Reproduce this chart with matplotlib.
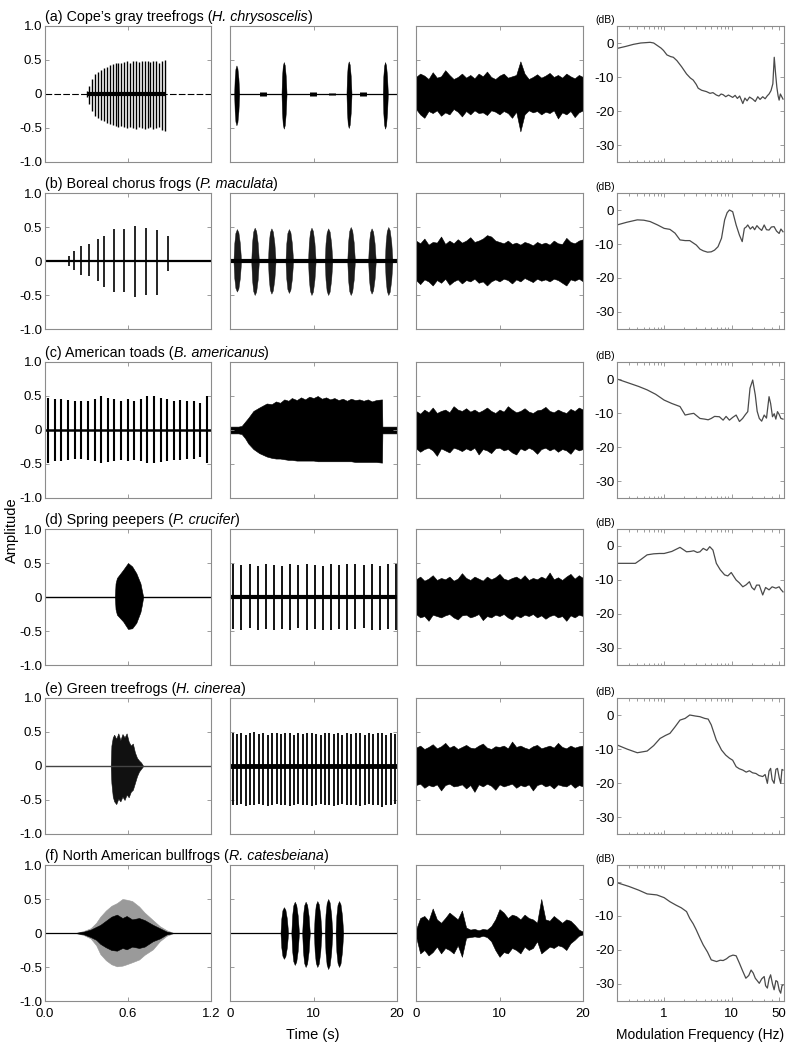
import numpy as np
import matplotlib.pyplot as plt

plt.rcParams['font.family'] = ['Liberation Sans', 'DejaVu Sans']
plt.rcParams['axes.unicode_minus'] = False

# ---- titles ----
labels = ['(a) Cope\u2019s gray treefrogs', '(b) Boreal chorus frogs', '(c) American toads',
          '(d) Spring peepers', '(e) Green treefrogs', '(f) North American bullfrogs']
species = ['H. chrysoscelis', 'P. maculata', 'B. americanus',
           'P. crucifer', 'H. cinerea', 'R. catesbeiana']

# ---- column 1: single calls (0-1.2 s) ----
a1_t = [0.300, 0.321, 0.342, 0.363, 0.384, 0.405, 0.426, 0.447, 0.468, 0.489, 0.510, 0.531, 0.552, 0.573,
        0.594, 0.615, 0.636, 0.657, 0.678, 0.699, 0.720, 0.741, 0.762, 0.783, 0.804, 0.825, 0.846, 0.867]
a1_up = [0.05, 0.12, 0.22, 0.3, 0.33, 0.36, 0.38, 0.4, 0.42, 0.44, 0.45, 0.46, 0.45, 0.47,
         0.48, 0.46, 0.48, 0.49, 0.47, 0.48, 0.49, 0.48, 0.47, 0.49, 0.48, 0.46, 0.49, 0.5]
a1_lo = [-0.05, -0.15, -0.25, -0.32, -0.36, -0.38, -0.4, -0.42, -0.44, -0.46, -0.47, -0.48, -0.47, -0.49,
         -0.5, -0.48, -0.5, -0.51, -0.49, -0.5, -0.51, -0.5, -0.49, -0.52, -0.5, -0.48, -0.53, -0.54]

b1_t = [0.17, 0.21, 0.26, 0.32, 0.38, 0.43, 0.50, 0.57, 0.65, 0.73, 0.81, 0.89]
b1_up = [0.08, 0.14, 0.22, 0.25, 0.32, 0.37, 0.47, 0.47, 0.52, 0.49, 0.45, 0.37]
b1_lo = [-0.07, -0.13, -0.2, -0.22, -0.3, -0.38, -0.45, -0.45, -0.53, -0.5, -0.5, -0.15]

c1_t = [0.024, 0.072, 0.119, 0.167, 0.215, 0.263, 0.310, 0.358, 0.406, 0.453, 0.501, 0.549, 0.597,
        0.644, 0.692, 0.740, 0.787, 0.835, 0.883, 0.931, 0.978, 1.026, 1.074, 1.121, 1.169]
c1_up = [0.47, 0.45, 0.45, 0.44, 0.43, 0.42, 0.43, 0.45, 0.5, 0.47, 0.45, 0.43, 0.45,
         0.43, 0.45, 0.5, 0.5, 0.47, 0.45, 0.43, 0.44, 0.43, 0.42, 0.4, 0.5]
c1_lo = [-0.48, -0.46, -0.45, -0.44, -0.43, -0.43, -0.44, -0.46, -0.48, -0.47, -0.45, -0.44, -0.45,
         -0.44, -0.46, -0.48, -0.49, -0.47, -0.45, -0.44, -0.44, -0.43, -0.42, -0.4, -0.48]

d1_t = [0.505, 0.51, 0.52, 0.565, 0.60, 0.63, 0.66, 0.69, 0.70, 0.71]
d1_up = [0.0, 0.2, 0.28, 0.4, 0.5, 0.45, 0.35, 0.2, 0.1, 0.0]
d1_lo = [0.0, -0.18, -0.26, -0.36, -0.47, -0.46, -0.38, -0.22, -0.12, 0.0]

e1_t = [0.475, 0.48, 0.49, 0.50, 0.515, 0.53, 0.545, 0.56, 0.575, 0.59, 0.605, 0.62, 0.635, 0.65,
        0.665, 0.68, 0.695, 0.71]
e1_up = [0.0, 0.3, 0.42, 0.46, 0.4, 0.48, 0.38, 0.47, 0.42, 0.48, 0.36, 0.3, 0.33, 0.2,
         0.12, 0.08, 0.05, 0.0]
e1_lo = [0.0, -0.25, -0.45, -0.52, -0.56, -0.48, -0.52, -0.45, -0.5, -0.42, -0.46, -0.38, -0.35, -0.25,
         -0.15, -0.08, -0.04, 0.0]

f1_t = [0.22, 0.28, 0.33, 0.37, 0.40, 0.44, 0.48, 0.52, 0.56, 0.59, 0.63, 0.68, 0.72, 0.78, 0.83, 0.88, 0.93]
f1_up_out = [0.0, 0.03, 0.07, 0.15, 0.24, 0.33, 0.4, 0.44, 0.5, 0.49, 0.47, 0.39, 0.3, 0.19, 0.1, 0.04, 0.0]
f1_lo_out = [0.0, -0.03, -0.08, -0.18, -0.31, -0.4, -0.46, -0.49, -0.48, -0.46, -0.43, -0.39, -0.32,
             -0.24, -0.12, -0.04, 0.0]
f1_up_in = [0.0, 0.02, 0.05, 0.09, 0.12, 0.18, 0.24, 0.27, 0.22, 0.25, 0.2, 0.22, 0.19, 0.12, 0.07, 0.02, 0.0]
f1_lo_in = [0.0, -0.02, -0.06, -0.1, -0.16, -0.21, -0.25, -0.26, -0.22, -0.24, -0.2, -0.22, -0.2,
            -0.12, -0.08, -0.02, 0.0]

# ---- column 2: call sequences (0-20 s) ----
a2_t = [0.8, 6.47, 14.25, 18.6]
a2_up = [0.42, 0.47, 0.48, 0.47]
a2_lo = [-0.46, -0.51, -0.5, -0.51]
a2_small_t = [4.0, 9.9, 12.2, 15.9]
a2_small_a = [0.03, 0.03, 0.02, 0.03]

b2_t = [0.87, 3.0, 5.0, 7.1, 9.8, 11.8, 14.5, 17.0, 19.0]
b2_up = [0.47, 0.49, 0.48, 0.47, 0.49, 0.48, 0.5, 0.48, 0.5]
b2_lo = [-0.45, -0.5, -0.48, -0.47, -0.5, -0.5, -0.5, -0.48, -0.5]

c2_t = [0, 0.5, 1.0, 1.4, 1.8, 2.2, 2.8, 3.5, 4.4, 5.0, 5.5, 6.0, 6.5, 7.0, 7.4, 8.0, 8.5, 9.0,
        9.5, 10, 10.5, 11.0, 11.5, 12.0, 12.5, 13, 13.5, 14.0, 14.5, 15.0, 15.5, 16, 16.5, 17.0,
        17.5, 18.2, 18.25, 19, 20]
c2_up = [0.05, 0.05, 0.05, 0.06, 0.12, 0.18, 0.28, 0.33, 0.39, 0.38, 0.42, 0.4, 0.45, 0.43, 0.47,
         0.44, 0.48, 0.45, 0.49, 0.47, 0.5, 0.46, 0.48, 0.45, 0.47, 0.44, 0.46, 0.43, 0.46, 0.44,
         0.45, 0.43, 0.45, 0.42, 0.44, 0.45, 0.05, 0.05, 0.05]
c2_lo = [-0.05, -0.05, -0.05, -0.06, -0.12, -0.2, -0.28, -0.34, -0.39, -0.41, -0.42, -0.42, -0.43,
         -0.44, -0.44, -0.45, -0.45, -0.45, -0.45, -0.45, -0.46, -0.46, -0.46, -0.46, -0.46, -0.46,
         -0.46, -0.46, -0.46, -0.47, -0.47, -0.47, -0.47, -0.47, -0.47, -0.48, -0.05, -0.05, -0.05]

d2_t = [0.4, 1.37, 2.35, 3.32, 4.3, 5.27, 6.25, 7.22, 8.2, 9.17, 10.15, 11.12, 12.1, 13.07,
        14.05, 15.02, 16.0, 16.97, 17.95, 18.92, 19.9]
d2_up = [0.48, 0.47, 0.49, 0.46, 0.48, 0.47, 0.46, 0.48, 0.47, 0.49, 0.47, 0.46, 0.48, 0.47,
         0.48, 0.49, 0.47, 0.48, 0.46, 0.48, 0.49]
d2_lo = [-0.47, -0.48, -0.46, -0.48, -0.47, -0.49, -0.47, -0.48, -0.46, -0.48, -0.47, -0.48, -0.49, -0.47,
         -0.48, -0.47, -0.46, -0.48, -0.49, -0.47, -0.48]

e2_t = [0.3, 0.83, 1.35, 1.88, 2.41, 2.93, 3.46, 3.99, 4.52, 5.04, 5.57, 6.1, 6.62, 7.15, 7.68, 8.2,
        8.73, 9.26, 9.78, 10.31, 10.84, 11.36, 11.89, 12.42, 12.95, 13.47, 14.0, 14.53, 15.05, 15.58,
        16.11, 16.63, 17.16, 17.69, 18.21, 18.74, 19.27, 19.79]
e2_up = [0.48, 0.47, 0.49, 0.46, 0.48, 0.5, 0.47, 0.48, 0.46, 0.49, 0.48, 0.47, 0.49, 0.48, 0.46, 0.48,
         0.47, 0.49, 0.48, 0.47, 0.46, 0.48, 0.49, 0.47, 0.48, 0.46, 0.48, 0.47, 0.49, 0.48,
         0.46, 0.48, 0.47, 0.49, 0.48, 0.46, 0.48, 0.47]
e2_lo = [-0.57, -0.58, -0.56, -0.59, -0.57, -0.58, -0.56, -0.57, -0.59, -0.58, -0.56, -0.57, -0.58, -0.59,
         -0.57, -0.56, -0.58, -0.57, -0.59, -0.58, -0.56, -0.57, -0.58, -0.59, -0.57, -0.56, -0.58, -0.57,
         -0.58, -0.59, -0.57, -0.56, -0.58, -0.57, -0.6, -0.58, -0.57, -0.56]

f2_t = [6.5, 7.8, 9.1, 10.5, 11.8, 13.1]
f2_up = [0.38, 0.46, 0.46, 0.47, 0.5, 0.47]
f2_lo = [-0.38, -0.47, -0.5, -0.5, -0.53, -0.5]

# ---- column 3: chorus noise envelopes (0-20 s) ----
noise_t = [0, 0.5, 1, 1.5, 2, 2.5, 3, 3.5, 4, 4.5, 5, 5.5, 6, 6.5, 7, 7.5, 8, 8.5, 9, 9.5, 10,
           10.5, 11, 11.5, 12, 12.5, 13, 13.5, 14, 14.5, 15, 15.5, 16, 16.5, 17, 17.5, 18, 18.5,
           19, 19.5, 20]
a3_up = [0.25, 0.3, 0.27, 0.22, 0.32, 0.24, 0.26, 0.35, 0.28, 0.22, 0.25, 0.3, 0.24, 0.28, 0.23,
         0.3, 0.26, 0.33, 0.25, 0.22, 0.27, 0.3, 0.24, 0.26, 0.28, 0.48, 0.3, 0.22, 0.25, 0.29,
         0.24, 0.27, 0.31, 0.25, 0.28, 0.24, 0.3, 0.26, 0.23, 0.28, 0.25]
a3_lo = [-0.22, -0.3, -0.35, -0.25, -0.28, -0.24, -0.32, -0.27, -0.3, -0.22, -0.26, -0.33, -0.25, -0.3,
         -0.24, -0.28, -0.27, -0.31, -0.24, -0.26, -0.3, -0.25, -0.28, -0.35, -0.26, -0.55, -0.3, -0.24,
         -0.27, -0.25, -0.3, -0.26, -0.28, -0.24, -0.36, -0.27, -0.3, -0.25, -0.34, -0.27, -0.24]
b3_up = [0.3, 0.26, 0.33, 0.24, 0.28, 0.27, 0.36, 0.25, 0.3, 0.26, 0.32, 0.27, 0.3, 0.35, 0.28,
         0.3, 0.33, 0.38, 0.36, 0.3, 0.28, 0.26, 0.3, 0.25, 0.27, 0.24, 0.28, 0.26, 0.23, 0.28,
         0.25, 0.27, 0.24, 0.3, 0.26, 0.25, 0.34, 0.28, 0.26, 0.3, 0.32]
b3_lo = [-0.28, -0.34, -0.27, -0.3, -0.36, -0.28, -0.32, -0.26, -0.35, -0.3, -0.27, -0.33, -0.28, -0.3,
         -0.26, -0.32, -0.3, -0.36, -0.3, -0.27, -0.3, -0.26, -0.28, -0.33, -0.27, -0.3, -0.25, -0.28,
         -0.31, -0.26, -0.29, -0.27, -0.3, -0.26, -0.28, -0.32, -0.36, -0.27, -0.29, -0.26, -0.3]
c3_up = [0.28, 0.24, 0.3, 0.26, 0.33, 0.25, 0.28, 0.3, 0.26, 0.35, 0.3, 0.28, 0.32, 0.27, 0.3,
         0.26, 0.29, 0.33, 0.28, 0.25, 0.3, 0.27, 0.35, 0.3, 0.26, 0.28, 0.32, 0.27, 0.25, 0.29,
         0.3, 0.34, 0.28, 0.26, 0.3, 0.27, 0.25, 0.31, 0.28, 0.33, 0.3]
c3_lo = [-0.27, -0.32, -0.28, -0.26, -0.3, -0.38, -0.27, -0.3, -0.33, -0.26, -0.28, -0.31, -0.27, -0.3,
         -0.26, -0.36, -0.28, -0.3, -0.34, -0.27, -0.26, -0.3, -0.28, -0.33, -0.36, -0.27, -0.3, -0.26,
         -0.29, -0.35, -0.28, -0.26, -0.3, -0.27, -0.32, -0.28, -0.3, -0.35, -0.27, -0.3, -0.28]
d3_up = [0.26, 0.3, 0.24, 0.27, 0.32, 0.25, 0.28, 0.26, 0.3, 0.24, 0.27, 0.35, 0.28, 0.25, 0.3,
         0.27, 0.24, 0.3, 0.26, 0.29, 0.34, 0.27, 0.25, 0.28, 0.3, 0.26, 0.32, 0.25, 0.28, 0.26,
         0.3, 0.27, 0.36, 0.26, 0.29, 0.25, 0.3, 0.34, 0.27, 0.32, 0.28]
d3_lo = [-0.25, -0.3, -0.28, -0.35, -0.26, -0.28, -0.3, -0.27, -0.25, -0.3, -0.33, -0.27, -0.26, -0.3,
         -0.28, -0.25, -0.34, -0.28, -0.3, -0.26, -0.28, -0.25, -0.3, -0.33, -0.27, -0.3, -0.26, -0.28,
         -0.25, -0.3, -0.27, -0.32, -0.28, -0.26, -0.3, -0.28, -0.35, -0.27, -0.3, -0.26, -0.28]
e3_up = [0.27, 0.3, 0.25, 0.28, 0.32, 0.26, 0.29, 0.34, 0.27, 0.3, 0.25, 0.28, 0.31, 0.27, 0.26,
         0.3, 0.33, 0.27, 0.25, 0.29, 0.28, 0.3, 0.26, 0.36, 0.28, 0.3, 0.27, 0.25, 0.29, 0.31,
         0.26, 0.28, 0.3, 0.27, 0.34, 0.28, 0.26, 0.3, 0.27, 0.29, 0.3]
e3_lo = [-0.28, -0.26, -0.32, -0.28, -0.3, -0.27, -0.36, -0.28, -0.26, -0.3, -0.29, -0.27, -0.33, -0.28,
         -0.38, -0.27, -0.3, -0.26, -0.29, -0.35, -0.27, -0.3, -0.28, -0.26, -0.32, -0.28, -0.3, -0.27,
         -0.36, -0.28, -0.26, -0.3, -0.28, -0.33, -0.27, -0.29, -0.3, -0.26, -0.32, -0.28, -0.3]
f3_up = [0.05, 0.22, 0.25, 0.18, 0.36, 0.2, 0.15, 0.22, 0.3, 0.25, 0.2, 0.33, 0.08, 0.05, 0.06,
         0.04, 0.06, 0.05, 0.1, 0.2, 0.35, 0.3, 0.22, 0.27, 0.25, 0.2, 0.27, 0.22, 0.2, 0.15,
         0.5, 0.2, 0.18, 0.25, 0.2, 0.15, 0.2, 0.18, 0.12, 0.05, 0.02]
f3_lo = [-0.05, -0.3, -0.25, -0.33, -0.28, -0.2, -0.3, -0.22, -0.25, -0.3, -0.18, -0.35, -0.07, -0.06,
         -0.05, -0.06, -0.04, -0.06, -0.12, -0.25, -0.35, -0.28, -0.3, -0.22, -0.25, -0.3, -0.2, -0.25,
         -0.22, -0.12, -0.3, -0.25, -0.2, -0.22, -0.18, -0.2, -0.25, -0.15, -0.1, -0.04, -0.02]

# ---- column 4: modulation spectra (Hz, dB) ----
a4_f = [0.2, 0.27, 0.35, 0.45, 0.53, 0.62, 0.7, 0.8, 0.9, 0.98, 1.1, 1.25, 1.37, 1.55, 1.82, 2.15, 2.45,
        2.7, 3.0, 3.2, 3.6, 4.25, 4.8, 5.3, 5.95, 6.5, 7.0, 7.5, 8.2, 9.0, 10.4, 11.3, 12.2, 13.2, 14.7,
        15.8, 17.0, 18.5, 20.6, 22.5, 24.5, 26.5, 29.0, 31.5, 34.0, 36.0, 38.5, 41.0, 43.0, 45.0, 47.0,
        49.0, 50.8, 53.0, 55.6, 58.0]
a4_db = [-1.6, -1.0, -0.4, 0.0, 0.1, 0.2, 0.0, -0.8, -1.5, -2.2, -3.5, -4.0, -4.2, -5.2, -7.0, -9.1, -10.3,
         -10.9, -12.2, -13.3, -13.9, -14.3, -14.8, -14.6, -15.3, -15.6, -15.0, -15.2, -15.8, -15.3, -16.0,
         -15.4, -16.3, -15.6, -17.8, -16.2, -17.0, -15.9, -16.5, -17.2, -15.8, -16.6, -15.8, -16.4, -15.5,
         -15.0, -14.0, -12.0, -4.2, -9.0, -13.0, -15.5, -16.8, -15.0, -15.8, -16.5]
b4_f = [0.2, 0.28, 0.4, 0.5, 0.62, 0.8, 1.0, 1.22, 1.45, 1.72, 2.05, 2.4, 3.0, 3.4, 3.8, 4.4, 5.0, 5.6,
        6.3, 7.1, 7.9, 8.6, 9.3, 10.4, 11.7, 13.1, 14.4, 15.5, 16.5, 17.4, 19.0, 20.6, 22.0, 23.8, 25.8,
        28.0, 30.5, 33.0, 36.0, 39.0, 42.8, 46.5, 50.8, 54.0, 58.0]
b4_db = [-4.4, -3.6, -2.9, -3.0, -3.4, -4.4, -5.4, -5.7, -6.8, -8.8, -9.0, -9.0, -10.3, -11.5, -12.0,
         -12.4, -12.3, -11.8, -10.8, -8.3, -2.9, -0.8, 0.0, -0.5, -4.4, -7.4, -9.3, -5.4, -5.0, -4.4,
         -5.6, -4.9, -5.8, -4.6, -5.4, -6.0, -4.4, -5.8, -5.9, -5.0, -4.9, -6.2, -6.9, -5.6, -6.4]
c4_f = [0.2, 0.3, 0.42, 0.56, 0.75, 1.0, 1.3, 1.72, 2.05, 2.4, 2.75, 3.4, 4.0, 4.5, 5.0, 5.6, 6.6, 7.5,
        8.3, 9.3, 10.4, 11.7, 13.1, 14.6, 16.0, 17.4, 18.8, 20.6, 22.5, 24.0, 25.8, 28.0, 30.5, 33.0,
        36.0, 38.0, 40.5, 43.0, 45.4, 48.0, 50.8, 54.0, 58.0]
c4_db = [0.0, -1.2, -2.2, -3.2, -4.5, -6.2, -7.2, -8.1, -10.6, -10.3, -10.1, -11.6, -11.8, -12.0, -11.6,
         -11.0, -11.1, -12.1, -11.0, -12.1, -11.3, -10.6, -12.5, -11.6, -10.5, -9.6, -2.7, -0.3, -4.7,
         -9.5, -11.6, -12.4, -10.6, -11.5, -5.2, -7.2, -11.1, -10.2, -11.8, -9.6, -10.4, -11.6, -11.8]
d4_f = [0.2, 0.28, 0.375, 0.45, 0.56, 0.7, 0.85, 1.0, 1.3, 1.72, 2.15, 2.45, 2.75, 3.1, 3.4, 3.8, 4.3,
        4.75, 5.3, 5.95, 6.8, 7.9, 8.8, 9.9, 11.0, 11.7, 13.0, 14.7, 16.5, 18.4, 20.0, 21.8, 23.5, 25.8,
        29.0, 32.0, 36.0, 40.0, 45.4, 50.8, 54.0, 58.0]
d4_db = [-5.1, -5.1, -5.1, -4.0, -2.6, -2.3, -2.2, -2.2, -1.6, -0.4, -1.7, -1.6, -1.4, -1.9, -1.7, -0.7,
         -1.3, -0.2, -1.2, -5.1, -7.0, -8.5, -8.8, -7.8, -9.2, -10.0, -10.8, -12.0, -11.4, -10.5, -12.2,
         -12.9, -11.5, -11.5, -14.4, -12.2, -12.9, -12.0, -12.4, -12.0, -12.8, -13.5]
e4_f = [0.2, 0.28, 0.4, 0.56, 0.7, 0.87, 1.05, 1.22, 1.45, 1.72, 2.05, 2.4, 2.9, 3.4, 4.0, 4.5, 5.0, 5.95,
        6.5, 7.1, 8.2, 9.3, 10.4, 11.7, 13.0, 14.7, 16.5, 18.4, 20.5, 23.0, 25.5, 29.0, 31.5, 34.0, 36.0,
        38.0, 40.0, 42.8, 45.5, 48.0, 51.0, 53.6, 56.0, 58.0]
e4_db = [-8.8, -10.0, -11.1, -10.6, -9.0, -6.9, -6.0, -5.4, -3.5, -1.5, -1.0, 0.0, -0.3, -0.5, -1.0,
         -1.2, -2.9, -7.4, -8.8, -10.3, -11.8, -12.7, -13.3, -15.2, -15.8, -16.2, -16.8, -16.4, -17.0,
         -17.2, -17.8, -18.1, -17.5, -20.1, -16.5, -15.7, -19.0, -20.1, -16.0, -15.7, -18.5, -20.1,
         -16.0, -16.2]
f4_f = [0.2, 0.3, 0.42, 0.56, 0.78, 1.0, 1.22, 1.5, 1.8, 2.15, 2.4, 2.7, 3.0, 3.4, 3.8, 4.4, 5.0, 6.0,
        6.8, 7.5, 8.4, 9.3, 10.5, 11.7, 13.1, 14.5, 16.3, 18.0, 19.5, 21.0, 22.5, 24.0, 25.8, 28.0, 30.5,
        32.0, 34.0, 36.0, 38.0, 40.5, 42.8, 45.5, 48.0, 51.0, 53.6, 56.0, 58.0]
f4_db = [-0.2, -1.3, -2.4, -3.5, -3.8, -4.6, -5.8, -6.8, -7.6, -8.7, -10.7, -12.3, -14.1, -16.5, -18.5,
         -20.6, -22.9, -23.4, -23.0, -23.1, -22.6, -21.9, -21.5, -21.7, -23.9, -26.0, -28.3, -27.5, -25.9,
         -26.8, -28.3, -29.0, -29.8, -28.5, -27.8, -30.5, -31.2, -28.5, -27.3, -30.0, -31.7, -29.0, -29.3,
         -31.8, -32.7, -30.5, -30.3]

# lens-shaped pulse outline (relative units)
SP_X = [0.0, 0.1, 0.25, 0.45, 0.65, 0.85, 1.0]
SP_Y = [0.04, 0.55, 0.88, 1.0, 0.9, 0.55, 0.04]

W, H = 792, 1050
col_left = [45, 230, 416, 617]
col_w = [166, 167, 167, 167]
row_top = [26, 193, 362, 529, 698, 865]
ax_h = 136

fig = plt.figure(figsize=(W / 100, H / 100), dpi=100)
axes = []
for r in range(6):
    row = []
    for c in range(4):
        ax = fig.add_axes([col_left[c] / W, 1 - (row_top[r] + ax_h) / H, col_w[c] / W, ax_h / H])
        row.append(ax)
    axes.append(row)


def spindles(ax, t, up, lo, width, color='k'):
    for c, a, b in zip(t, up, lo):
        xs = [c - width / 2 + width * p for p in SP_X]
        ax.fill_between(xs, [b * p for p in SP_Y], [a * p for p in SP_Y], color=color, lw=0.3)


def envelope(ax, t, up, lo, color='k', lw=0.4):
    ax.fill_between(t, lo, up, color=color, lw=lw, edgecolor=color)


# column 1
ax = axes[0][0]
ax.axhline(0, color='k', lw=0.8, ls=(0, (6, 2)))
ax.hlines(0, a1_t[0], a1_t[-1], color='k', lw=3)
ax.vlines(a1_t, a1_lo, a1_up, color='k', lw=1.0)

ax = axes[1][0]
ax.axhline(0, color='k', lw=1.6)
ax.vlines(b1_t, b1_lo, b1_up, color='k', lw=1.2)

ax = axes[2][0]
ax.axhline(0, color='k', lw=1.8)
ax.vlines(c1_t, c1_lo, c1_up, color='k', lw=1.5)

ax = axes[3][0]
ax.axhline(0, color='k', lw=1.0)
envelope(axes[3][0], d1_t, d1_up, d1_lo)

ax = axes[4][0]
ax.axhline(0, color='#444444', lw=1.0)
envelope(ax, e1_t, e1_up, e1_lo, color='#111111')

ax = axes[5][0]
ax.axhline(0, color='k', lw=0.9)
envelope(ax, f1_t, f1_up_out, f1_lo_out, color='#9a9a9a')
envelope(ax, f1_t, f1_up_in, f1_lo_in, color='k')

# column 2
ax = axes[0][1]
ax.axhline(0, color='k', lw=0.9)
spindles(ax, a2_t, a2_up, a2_lo, 0.6)
ax.vlines(a2_small_t, [-v for v in a2_small_a], a2_small_a, color='k', lw=5)

ax = axes[1][1]
ax.axhline(0, color='k', lw=3)
spindles(ax, b2_t, b2_up, b2_lo, 0.9, color='#1a1a1a')

ax = axes[2][1]
envelope(ax, c2_t, c2_up, c2_lo)

ax = axes[3][1]
ax.axhline(0, color='k', lw=3)
ax.vlines(d2_t, d2_lo, d2_up, color='k', lw=1.3)

ax = axes[4][1]
ax.axhline(0, color='k', lw=3.5)
ax.vlines(e2_t, e2_lo, e2_up, color='k', lw=1.3)

ax = axes[5][1]
ax.axhline(0, color='k', lw=0.9)
spindles(ax, f2_t, f2_up, f2_lo, 0.9)

# column 3
noise_up = [a3_up, b3_up, c3_up, d3_up, e3_up, f3_up]
noise_lo = [a3_lo, b3_lo, c3_lo, d3_lo, e3_lo, f3_lo]
for r in range(6):
    axes[r][2].axhline(0, color='k', lw=0.9)
    envelope(axes[r][2], noise_t, noise_up[r], noise_lo[r])

# column 4
spec_f = [a4_f, b4_f, c4_f, d4_f, e4_f, f4_f]
spec_db = [a4_db, b4_db, c4_db, d4_db, e4_db, f4_db]
for r in range(6):
    axes[r][3].plot(spec_f[r], spec_db[r], color='#4a4a4a', lw=0.9)

# styling
for r in range(6):
    for c in range(4):
        ax = axes[r][c]
        for s in ax.spines.values():
            s.set_color('#8c8c8c')
            s.set_linewidth(0.8)
        ax.tick_params(which='both', direction='in', top=True, right=True, length=3,
                       width=0.6, color='#8c8c8c', labelsize=9.5)
        ax.tick_params(axis='y', pad=2)
        ax.tick_params(axis='x', pad=5)
        if c < 3:
            ax.set_ylim(-1, 1)
            ax.set_yticks([-1, -0.5, 0, 0.5, 1])
            if c == 0:
                ax.set_xlim(0, 1.2)
                ax.set_xticks([0, 0.6, 1.2])
                ax.set_xticklabels(['0.0', '0.6', '1.2'] if r == 5 else [])
                ax.set_yticklabels(['-1.0', '-0.5', '0', '0.5', '1.0'])
            else:
                ax.set_xlim(0, 20)
                ax.set_xticks([0, 10, 20])
                ax.set_xticklabels(['0', '10', '20'] if r == 5 else [])
                ax.set_yticklabels([])
        else:
            ax.set_xscale('log')
            ax.set_xlim(0.2, 60)
            ax.set_ylim(-35, 5)
            ax.set_yticks([0, -10, -20, -30])
            ax.set_yticklabels(['0', '-10', '-20', '-30'])
            ax.set_xticks([1, 10, 50])
            ax.set_xticklabels(['1', '10', '50'] if r == 5 else [])
            ax.tick_params(which='minor', length=1.8)
            ax.xaxis.set_minor_formatter(plt.NullFormatter())
            ax.text(-0.01, 1.01, '(dB)', transform=ax.transAxes, ha='right', va='bottom', fontsize=7.5)
    # title: plain part, italic species name, closing bracket
    t1 = axes[r][0].text(0.0, 1.015, labels[r] + ' (', transform=axes[r][0].transAxes,
                         ha='left', va='bottom', fontsize=10.3)
    t2 = axes[r][0].annotate(species[r], xy=(1, 0), xycoords=t1, ha='left', va='bottom',
                             fontsize=10.3, style='italic')
    axes[r][0].annotate(')', xy=(1, 0), xycoords=t2, ha='left', va='bottom', fontsize=10.3)

fig.text(12 / W, 1 - 530 / H, 'Amplitude', rotation=90, ha='center', va='center', fontsize=10.5)
fig.text(313 / W, 1 - 1035 / H, 'Time (s)', ha='center', va='center', fontsize=10.5)
fig.text(700 / W, 1 - 1035 / H, 'Modulation Frequency (Hz)', ha='center', va='center', fontsize=10)

fig.savefig('out.png', dpi=100)
